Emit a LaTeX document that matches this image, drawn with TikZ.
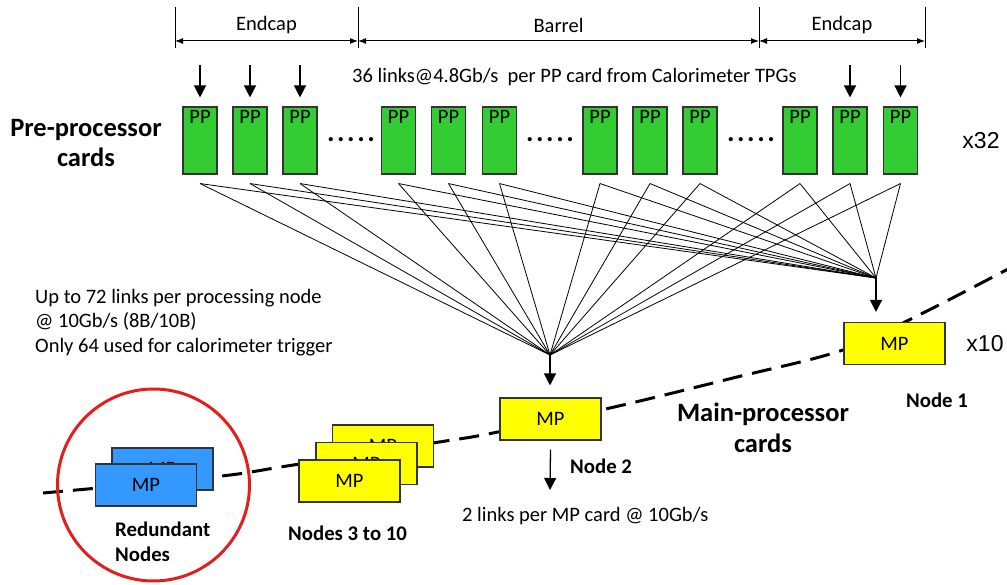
\documentclass[tikz,border=0pt]{standalone}
\usepackage{fontspec}
\setmainfont{Carlito}
\newfontfamily\arialfont{Liberation Sans}
\usetikzlibrary{arrows.meta}

\definecolor{ppgreen}{RGB}{51,204,51}
\definecolor{mpyellow}{RGB}{255,255,0}
\definecolor{mpblue}{RGB}{51,153,255}
\definecolor{ringred}{RGB}{226,30,30}

\newcommand{\dotrow}{.\kern2.6pt.\kern2.6pt.\kern2.6pt.\kern2.6pt.}

\begin{document}
\begin{tikzpicture}[x=1pt,y=-1pt,
  ppcard/.style={draw=black!80, line width=1.1pt, fill=ppgreen,
    minimum width=34pt, minimum height=67pt, inner sep=0pt,
    label={[anchor=north, inner sep=0pt, yshift=-4pt, font=\fontsize{20.5}{22}\selectfont]north:PP}},
  mpcard/.style={draw=black!80, line width=1.1pt, fill=#1,
    minimum width=101pt, minimum height=42pt, inner sep=0pt,
    font=\fontsize{20.5}{22}\selectfont},
  txt/.style={font=\fontsize{20.5}{24.5}\selectfont, inner sep=0pt},
  bigbold/.style={font=\fontsize{26.5}{30.5}\selectfont\bfseries, align=center, inner sep=0pt},
  smallbold/.style={font=\fontsize{20.8}{25}\selectfont\bfseries, inner sep=0pt},
  mult/.style={font=\arialfont\fontsize{23}{26}\selectfont, inner sep=0pt},
  dots/.style={font=\fontsize{28}{28}\selectfont\bfseries, inner sep=0pt},
  inarrow/.style={line width=1.3pt, -{Triangle[length=12pt,width=12pt]}},
  dimline/.style={line width=1pt, {Latex[length=8pt,width=6pt]}-{Latex[length=8pt,width=6pt]}},
  tick/.style={line width=1pt},
  fan/.style={line width=0.8pt},
  boundary/.style={line width=3pt, dash pattern=on 20pt off 10pt},
]
\useasboundingbox (0,0) rectangle (1007,585);

% region extents along the top
\coordinate (t1) at (175,7);   \coordinate (b1) at (175,48);
\coordinate (t2) at (358,7);   \coordinate (b2) at (358,48);
\coordinate (t3) at (759,7);   \coordinate (b3) at (759,48);
\coordinate (t4) at (925,7);   \coordinate (b4) at (925,48);
\coordinate (d1) at (175,41);  \coordinate (d2) at (358,41);
\coordinate (d3) at (759,41);  \coordinate (d4) at (925,41);
\draw[tick] (t1) -- (b1); \draw[tick] (t2) -- (b2);
\draw[tick] (t3) -- (b3); \draw[tick] (t4) -- (b4);
\draw[dimline] (d1) -- (d2);
\draw[dimline] (d2) -- (d3);
\draw[dimline] (d3) -- (d4);
\node[txt] (lend1) at (266.5,25) {Endcap};
\node[txt] (lbar)  at (558.5,25) {Barrel};
\node[txt] (lend2) at (842,25) {Endcap};

\node[txt, anchor=west] (links36) at (352,77) {36 links@4.8Gb/s\ \ per PP card from Calorimeter TPGs};

% main-processor boundary
\draw[boundary] plot[smooth, tension=0.6] coordinates {(43,493) (213,477) (287,466) (433,443) (493,433) (610,408) (733,378) (843,350) (917,316) (1010,268)};

% pre-processor cards
\foreach \i/\x in {1/200,2/250,3/300,4/398.5,5/448.5,6/499.5,7/600,8/650,9/700,10/800,11/850,12/900.5}{
  \node[ppcard] (pp\i) at (\x,140.5) {};
}
\node[dots] (dotsA) at (351,140) {\dotrow};
\node[dots] (dotsB) at (550,140) {\dotrow};
\node[dots] (dotsC) at (751,140) {\dotrow};

% input links
\foreach \i in {1,2,3,11,12}{
  \draw[inarrow] ([yshift=41pt]pp\i.north) -- ([yshift=9pt]pp\i.north);
}

\node[bigbold] (ppt) at (86,143) {Pre-processor\\cards};
\node[mult] (x32) at (981,141) {x32};

% time-multiplexed links to the processing nodes
\coordinate (hubA) at (550,355);
\coordinate (hubB) at (876,278);
\foreach \i in {1,...,12}{
  \draw[fan] ([yshift=-9pt]pp\i.south) -- (hubA);
  \draw[fan] ([yshift=-9pt]pp\i.south) -- (hubB);
}

% main-processor cards
\node[mpcard=mpyellow] (mp1) at (894.5,343.5) {MP};
\node[mpcard=mpyellow] (mp2) at (550.5,419) {MP};
\draw[inarrow, shorten >=12pt] (hubA) -- (hubA |- mp2.north);
\draw[inarrow, shorten >=10pt] (hubB) -- (hubB |- mp1.north);
\node[mult] (x10) at (985,344) {x10};
\node[smallbold] (n1) at (937,400) {Node 1};

\coordinate (out2) at (550,490);
\draw[inarrow] ([yshift=-9pt]mp2.south) -- (out2);
\node[smallbold, anchor=west] (n2) at (570,466) {Node 2};
\node[txt, anchor=west] (links2) at (462,516) {2 links per MP card @ 10Gb/s};

\node[bigbold] (mpt) at (763,428) {Main-processor\\cards};

\node[txt, anchor=north west, align=left] (links72) at (35,289) {Up to 72 links per processing node\\@ 10Gb/s (8B/10B)\\Only 64 used for calorimeter trigger};

% nodes 3 to 10
\node[mpcard=mpyellow] (mp10) at (383,446) {MP};
\node[mpcard=mpyellow] (mp9)  at (366.5,463.5) {MP};
\node[mpcard=mpyellow] (mp3)  at (349.5,481) {MP};
\node[smallbold, anchor=west] (n310) at (288,533) {Nodes 3 to 10};

% redundant nodes
\node[mpcard=mpblue] (rb) at (162.5,469) {MP};
\node[mpcard=mpblue] (ra) at (146,485) {MP};
\node[circle, draw=ringred, line width=3pt, minimum size=192pt, inner sep=0pt] (ring) at (153.5,485) {};
\node[smallbold, anchor=north west, align=left] (nred) at (115,522) {Redundant\\Nodes};
\end{tikzpicture}
\end{document}
